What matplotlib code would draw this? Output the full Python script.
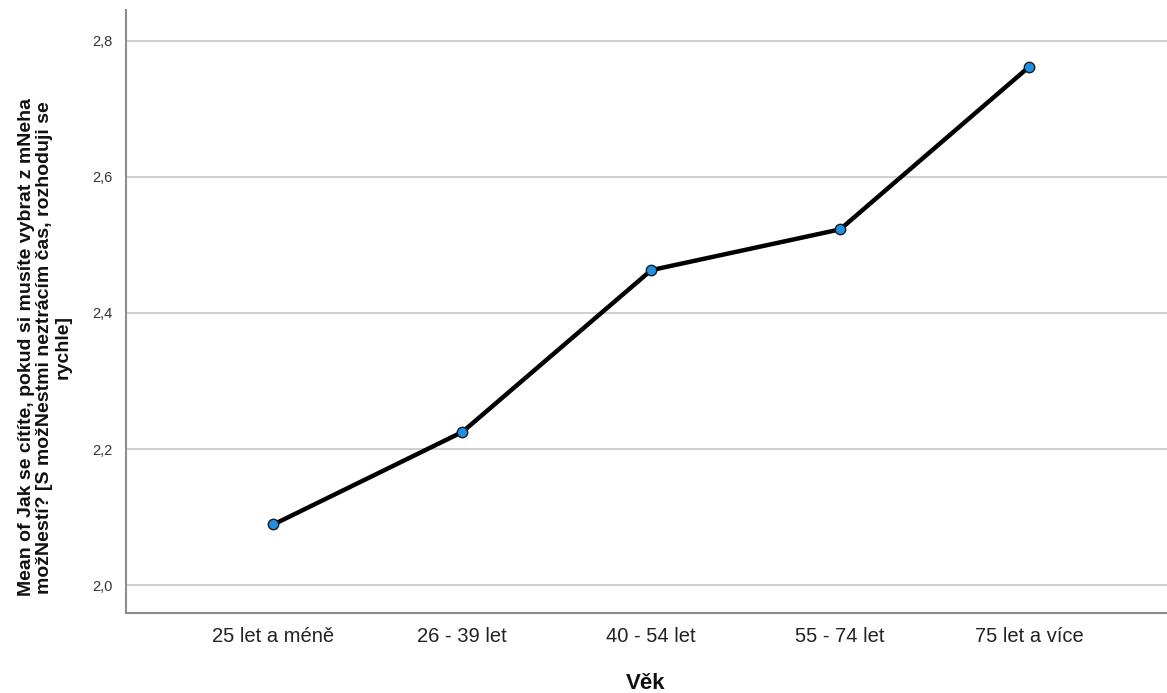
import numpy as np
import matplotlib
matplotlib.use("Agg")
import matplotlib.pyplot as plt

# data
categories = ["25 let a méně", "26 - 39 let", "40 - 54 let", "55 - 74 let", "75 let a více"]
means = [2.089, 2.225, 2.463, 2.523, 2.762]
y_ticks = [2.0, 2.2, 2.4, 2.6, 2.8]
y_tick_labels = ["2,0", "2,2", "2,4", "2,6", "2,8"]

ylabel = ("Mean of Jak se cítíte, pokud si musíte vybrat z mNeha\n"
          "možNestí? [S možNestmi neztrácím čas, rozhoduji se\n"
          "rychle]")
xlabel = "Věk"

plt.rcParams['font.family'] = ['Liberation Sans', 'DejaVu Sans']

fig = plt.figure(figsize=(11.67, 6.93), dpi=100)
ax = fig.add_axes([0.108, 0.1154, 0.892, 0.8702])

x = np.arange(len(categories))
ax.plot(x, means, color='black', lw=3.2, zorder=3,
        marker='o', markersize=7.5, markerfacecolor='#1f8fe3',
        markeredgecolor='#1a1a1a', markeredgewidth=1.0)

ax.set_xlim(-0.78, 4.73)
ax.set_ylim(1.9588, 2.8456)
ax.set_yticks(y_ticks)
ax.set_yticklabels(y_tick_labels)
ax.set_xticks(x)
ax.set_xticklabels(categories)

ax.grid(axis='y', color='#cccccc', lw=1.3)
ax.set_axisbelow(True)
for s in ['top', 'right']:
    ax.spines[s].set_visible(False)
for s in ['left', 'bottom']:
    ax.spines[s].set_color('#8c8c8c')
    ax.spines[s].set_linewidth(1.5)

ax.tick_params(axis='y', length=0, pad=10, labelsize=10.5, labelcolor='#333333')
ax.tick_params(axis='x', length=0, pad=10, labelsize=14.5, labelcolor='#222222')

fig.text(0.5535, 0.006, xlabel, ha='center', va='baseline', fontsize=16, fontweight='bold', color='#111111')
fig.text(0.038, 0.499, ylabel, rotation=90, ha='center', va='center', multialignment='center',
         fontsize=14, fontweight='bold', color='#111111', linespacing=1.1)

fig.savefig('out.png', dpi=100)
